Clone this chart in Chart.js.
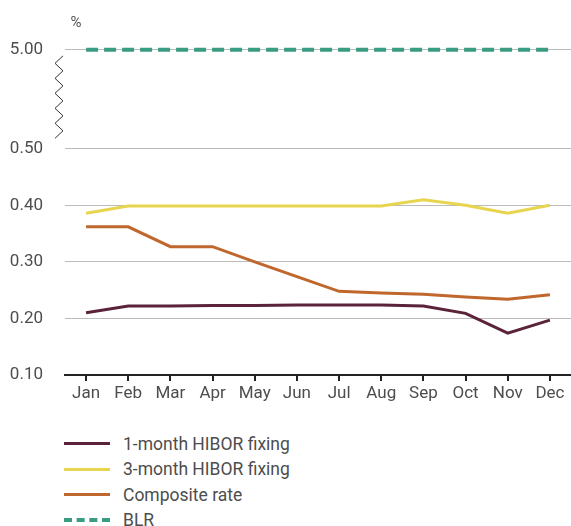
<!DOCTYPE html>
<html>
<head>
<meta charset="utf-8">
<script src="https://cdn.jsdelivr.net/npm/chart.js@4/dist/chart.umd.min.js"></script>
<style>
    body { margin: 0; background: #fff; font-family: Roboto, "Noto Sans", sans-serif; }
    .wrap { position: relative; width: 571px; height: 410px; }
    .legend { margin: 21px 0 0 64px; }
    .legend-item { display: flex; align-items: center; height: 25.5px; color: #4d4d4d; font-size: 17.5px; }
    .legend-line { width: 46px; margin-right: 13px; }
</style>
</head>
<body>
<div class="wrap"><canvas id="rateChart" width="571" height="410"></canvas></div>
<div class="legend" id="legend"></div>

<script>
    // Données
    const months = ['Jan', 'Feb', 'Mar', 'Apr', 'May', 'Jun', 'Jul', 'Aug', 'Sep', 'Oct', 'Nov', 'Dec'];
    const hibor1m = [0.210, 0.222, 0.222, 0.223, 0.223, 0.224, 0.224, 0.224, 0.222, 0.209, 0.174, 0.197];
    const hibor3m = [0.386, 0.399, 0.399, 0.399, 0.399, 0.399, 0.399, 0.399, 0.410, 0.400, 0.386, 0.400];
    const composite = [0.362, 0.362, 0.327, 0.327, 0.300, 0.274, 0.248, 0.245, 0.243, 0.238, 0.234, 0.242];
    const blr = [5.00, 5.00, 5.00, 5.00, 5.00, 5.00, 5.00, 5.00, 5.00, 5.00, 5.00, 5.00];
    const yTicks = [0.10, 0.20, 0.30, 0.40, 0.50, 5.00];

    // axe coupé : tout ce qui dépasse 0.50 est placé au-dessus de la coupure
    const BREAK_POS = 0.675;
    const toAxis = v => v > 0.5 ? BREAK_POS : v;

    const series = [
        { label: '1-month HIBOR fixing', data: hibor1m, color: '#5b2339', dash: [] , width: 3 },
        { label: '3-month HIBOR fixing', data: hibor3m, color: '#e8d54f', dash: [], width: 3 },
        { label: 'Composite rate', data: composite, color: '#c0672e', dash: [], width: 3 },
        { label: 'BLR', data: blr, color: '#3a9c82', dash: [12, 6], width: 4 }
    ];

    const fontFamily = 'Roboto, "Noto Sans", sans-serif';

    // coupure en zigzag + unité
    const decorPlugin = {
        id: 'decor',
        afterDraw(chart) {
            const ctx = chart.ctx;
            const y = chart.scales.y;
            const top = y.getPixelForValue(BREAK_POS) + 6;
            const bottom = y.getPixelForValue(0.5) - 8;
            ctx.save();
            ctx.strokeStyle = '#333';
            ctx.lineWidth = 1;
            ctx.beginPath();
            let yy = top, right = true;
            ctx.moveTo(63, yy);
            while (yy + 7.5 <= bottom) {
                yy += 7.5;
                right = !right;
                ctx.lineTo(right ? 63 : 55, yy);
            }
            ctx.stroke();
            ctx.fillStyle = '#555';
            ctx.font = '15px ' + fontFamily;
            ctx.textAlign = 'center';
            ctx.textBaseline = 'middle';
            ctx.fillText('%', 76, 23);
            ctx.restore();
        }
    };

    const ctx = document.getElementById('rateChart').getContext('2d');
    const rateChart = new Chart(ctx, {
        type: 'line',
        data: {
            labels: months,
            datasets: series.map(s => ({
                label: s.label,
                data: s.data.map(toAxis),
                borderColor: s.color,
                backgroundColor: s.color,
                borderWidth: s.width,
                borderDash: s.dash,
                pointRadius: 0,
                tension: 0,
                clip: false
            }))
        },
        options: {
            responsive: false,
            animation: false,
            layout: { padding: { top: 47, right: 0, left: 0, bottom: 0 } },
            plugins: {
                legend: { display: false },
                tooltip: { enabled: false }
            },
            scales: {
                x: {
                    offset: true,
                    afterFit: scale => { scale.height = 35; },
                    border: { display: true, color: '#222', width: 2 },
                    grid: { display: true, drawOnChartArea: false, drawTicks: true, tickLength: 6, color: '#222', lineWidth: 2 },
                    ticks: { color: '#4d4d4d', padding: 3, font: { family: fontFamily, size: 17 } }
                },
                y: {
                    min: 0.1,
                    max: 0.68,
                    afterFit: scale => { scale.width = 65; },
                    afterBuildTicks: scale => {
                        scale.ticks = yTicks.map(v => ({ value: toAxis(v) }));
                    },
                    border: { display: false },
                    grid: {
                        drawTicks: false,
                        color: c => (c.tick && c.tick.value <= 0.1) ? 'rgba(0,0,0,0)' : '#bbbbbb',
                        lineWidth: 1
                    },
                    ticks: {
                        color: '#4d4d4d',
                        padding: 22,
                        font: { family: fontFamily, size: 17 },
                        callback: v => (v > 0.5 ? 5.00 : v).toFixed(2)
                    }
                }
            }
        },
        plugins: [decorPlugin]
    });

    // Légende
    document.getElementById('legend').innerHTML = series.map(s => `
        <div class="legend-item">
            <span class="legend-line" style="border-top: ${s.width === 4 ? 4 : 3}px ${s.dash.length ? 'dashed' : 'solid'} ${s.color}"></span>
            <span>${s.label}</span>
        </div>
    `).join('');
</script>
</body>
</html>
